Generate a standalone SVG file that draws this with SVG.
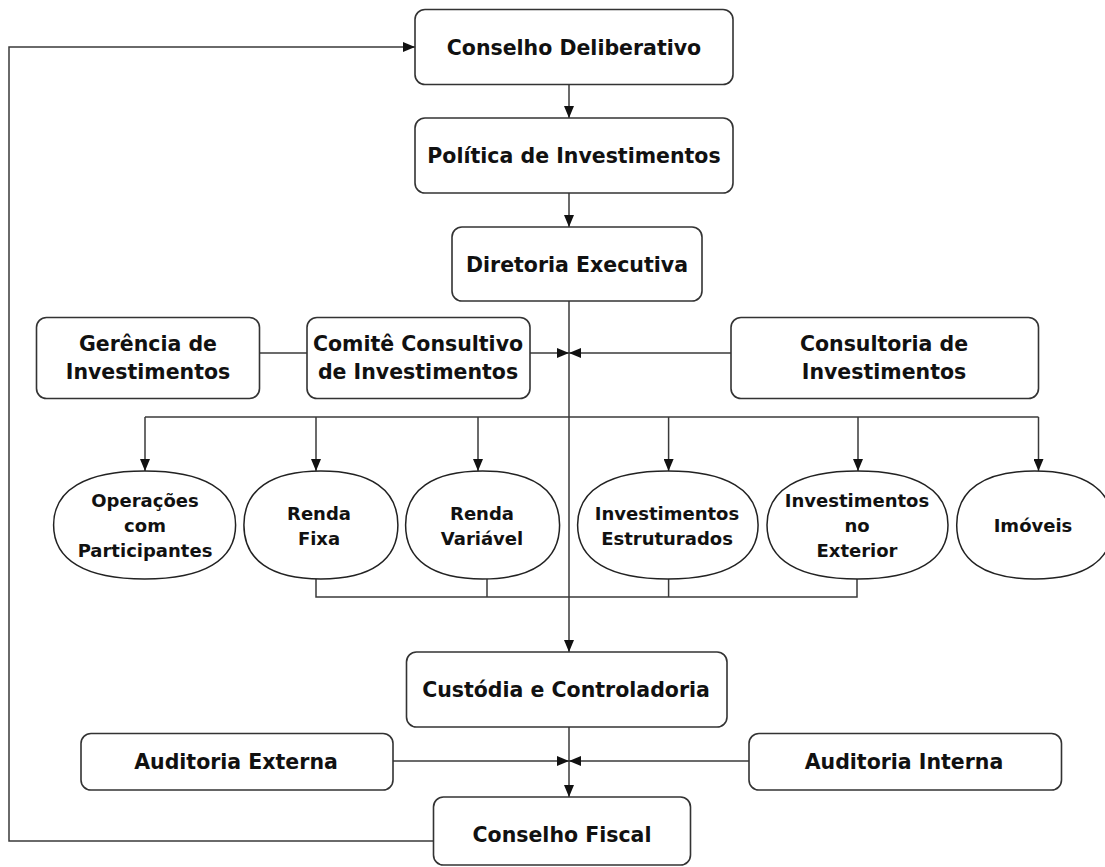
<svg xmlns="http://www.w3.org/2000/svg" width="1105" height="867" viewBox="0 0 1105 867">
<style>
.box{fill:#fff;stroke:#333;stroke-width:1.6}
.oval{fill:#fff;stroke:#222;stroke-width:1.5}
.ln{fill:none;stroke:#3a3a3a;stroke-width:1.5}
.arr{fill:none;stroke:#3a3a3a;stroke-width:1.5;marker-end:url(#ah)}
.t{font-family:"DejaVu Sans",Verdana,sans-serif;font-weight:bold;font-size:20.5px;fill:#111;text-anchor:middle}
.s{font-family:"DejaVu Sans",Verdana,sans-serif;font-weight:bold;font-size:18px;fill:#111;text-anchor:middle}
</style>
<defs>
<marker id="ah" markerUnits="userSpaceOnUse" markerWidth="12" markerHeight="10" refX="12" refY="5" orient="auto">
<path d="M0,0 L12,5 L0,10 z" fill="#111"/>
</marker>
</defs>
<rect width="1105" height="867" fill="#fff"/>
<g id="connectors">
<path class="arr" d="M569,84 V118"/>
<path class="arr" d="M569,193 V227"/>
<path class="arr" d="M569,301 V652"/>
<path class="arr" d="M569,727 V797"/>
<path class="ln" d="M259.5,353 H307"/>
<path class="arr" d="M530,353 H569"/>
<path class="arr" d="M731,353 H569"/>
<path class="ln" d="M145,417 H1038.5"/>
<path class="arr" d="M145,417 V471"/>
<path class="arr" d="M316,417 V471"/>
<path class="arr" d="M478,417 V471"/>
<path class="arr" d="M668.6,417 V471"/>
<path class="arr" d="M858,417 V471"/>
<path class="arr" d="M1038.5,417 V471"/>
<path class="ln" d="M316,579 V597 H857 V579"/>
<path class="ln" d="M487,579 V597"/>
<path class="ln" d="M668.6,579 V597"/>
<path class="arr" d="M393,761 H569"/>
<path class="arr" d="M749,761 H569"/>
<path class="arr" d="M433.5,841 H9 V47 H415"/>
</g>
<g id="conselho-deliberativo"><rect class="box" x="415" y="9.5" width="318" height="75" rx="10"/><text class="t" x="574" y="55">Conselho Deliberativo</text></g>
<g id="politica-investimentos"><rect class="box" x="415" y="118" width="318" height="75" rx="10"/><text class="t" x="574" y="163">Política de Investimentos</text></g>
<g id="diretoria-executiva"><rect class="box" x="452" y="227" width="250" height="74" rx="10"/><text class="t" x="577" y="272">Diretoria Executiva</text></g>
<g id="gerencia-investimentos"><rect class="box" x="36.5" y="317.5" width="223" height="81" rx="10"/><text class="t" x="148" y="350.5">Gerência de</text><text class="t" x="148" y="379">Investimentos</text></g>
<g id="comite-consultivo"><rect class="box" x="307" y="317.5" width="223" height="81" rx="10"/><text class="t" x="418" y="350.5">Comitê Consultivo</text><text class="t" x="418" y="379">de Investimentos</text></g>
<g id="consultoria-investimentos"><rect class="box" x="731" y="317.5" width="307.5" height="81" rx="10"/><text class="t" x="884" y="350.5">Consultoria de</text><text class="t" x="884" y="379">Investimentos</text></g>
<g id="operacoes"><path class="oval" d="M144.6,471 C203.75,471 235.6,489.9 235.6,525 C235.6,560.1 203.75,579 144.6,579 C85.45,579 53.6,560.1 53.6,525 C53.6,489.9 85.45,471 144.6,471 Z"/><text class="s" x="145" y="507">Operações</text><text class="s" x="145" y="532">com</text><text class="s" x="145" y="557">Participantes</text></g>
<g id="renda-fixa"><path class="oval" d="M320.9,471 C370.95,471 397.9,489.9 397.9,525 C397.9,560.1 370.95,579 320.9,579 C270.85,579 243.9,560.1 243.9,525 C243.9,489.9 270.85,471 320.9,471 Z"/><text class="s" x="319" y="520">Renda</text><text class="s" x="319" y="545">Fixa</text></g>
<g id="renda-variavel"><path class="oval" d="M482.6,471 C532.65,471 559.6,489.9 559.6,525 C559.6,560.1 532.65,579 482.6,579 C432.55,579 405.6,560.1 405.6,525 C405.6,489.9 432.55,471 482.6,471 Z"/><text class="s" x="482" y="520">Renda</text><text class="s" x="482" y="545">Variável</text></g>
<g id="investimentos-estruturados"><path class="oval" d="M667.85,471 C726.51,471 758.1,489.9 758.1,525 C758.1,560.1 726.51,579 667.85,579 C609.19,579 577.6,560.1 577.6,525 C577.6,489.9 609.19,471 667.85,471 Z"/><text class="s" x="667" y="520">Investimentos</text><text class="s" x="667" y="545">Estruturados</text></g>
<g id="investimentos-exterior"><path class="oval" d="M857.5,471 C916.33,471 948,489.9 948,525 C948,560.1 916.33,579 857.5,579 C798.67,579 767,560.1 767,525 C767,489.9 798.67,471 857.5,471 Z"/><text class="s" x="857" y="507">Investimentos</text><text class="s" x="857" y="532">no</text><text class="s" x="857" y="557">Exterior</text></g>
<g id="imoveis"><path class="oval" d="M1034.7,471 C1085.4,471 1112.7,489.9 1112.7,525 C1112.7,560.1 1085.4,579 1034.7,579 C984,579 956.7,560.1 956.7,525 C956.7,489.9 984,471 1034.7,471 Z"/><text class="s" x="1033" y="532">Imóveis</text></g>
<g id="custodia-controladoria"><rect class="box" x="406.5" y="652" width="320.5" height="75" rx="10"/><text class="t" x="566" y="697">Custódia e Controladoria</text></g>
<g id="auditoria-externa"><rect class="box" x="81" y="733.5" width="312" height="56.5" rx="10"/><text class="t" x="236" y="769">Auditoria Externa</text></g>
<g id="auditoria-interna"><rect class="box" x="749" y="733.5" width="312.5" height="56.5" rx="10"/><text class="t" x="904" y="769">Auditoria Interna</text></g>
<g id="conselho-fiscal"><rect class="box" x="433.5" y="797" width="257" height="68" rx="10"/><text class="t" x="562" y="841.5">Conselho Fiscal</text></g>
</svg>
